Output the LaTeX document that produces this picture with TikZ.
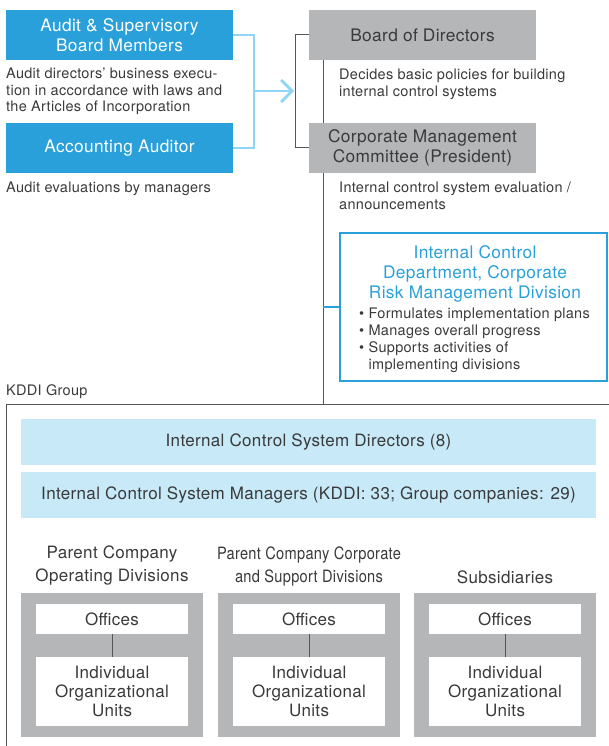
\documentclass[tikz,border=0pt]{standalone}
\usepackage{fontspec}
\setmainfont{TeX Gyre Heros}[LetterSpace=2]
\usepackage{graphicx}
\usetikzlibrary{arrows.meta}

\definecolor{kblue}{HTML}{29A0DA}
\definecolor{klink}{HTML}{8FD5F5}
\definecolor{kgray}{HTML}{B5B6B8}
\definecolor{kpale}{HTML}{C7E9F8}
\definecolor{ktext}{HTML}{3A3A3A}
\definecolor{kline}{HTML}{555555}

\tikzset{
	bluebox/.style={fill=kblue, text=white, minimum width=227pt, minimum height=50pt, inner sep=0pt, align=center, font=\fontsize{17.3}{20}\selectfont},
	graybox/.style={fill=kgray, text=ktext, minimum width=227pt, minimum height=50pt, inner sep=0pt, align=center, font=\fontsize{17.3}{20}\selectfont},
	note/.style={anchor=north west, align=left, inner sep=0pt, text=ktext, font=\fontsize{14.5}{16.5}\selectfont},
	palebox/.style={fill=kpale, text=ktext, minimum width=575pt, minimum height=46pt, inner sep=0pt, font=\fontsize{17}{19}\selectfont},
	header/.style={text=ktext, align=center, inner sep=0pt, font=\fontsize{17}{23}\selectfont},
	unitbox/.style={fill=white, text=ktext, minimum width=152pt, inner sep=0pt, align=center, font=\fontsize{17}{19}\selectfont},
	tree/.style={draw=kline, line width=1pt}
}

\begin{document}
\begin{tikzpicture}[x=1pt, y=-1pt]
	\useasboundingbox (0,0) rectangle (608,746);

	% audit side
	\node[bluebox] (aud) at (119.5, 35)  {Audit \& Supervisory\\Board Members};
	\node[note] (audnote) at (6, 68) {Audit directors' business execu-\\tion in accordance with laws and\\the Articles of Incorporation};
	\node[bluebox] (acc) at (119.5, 148) {Accounting Auditor};
	\node[note] (accnote) at (6, 182) {Audit evaluations by managers};

	\coordinate (join) at (254, 91);
	\coordinate (tip)  at (294, 91);
	\draw[klink, line width=2.8pt] (aud.east) -| (join) |- (acc.east);
	\draw[klink, line width=2.8pt, -{Straight Barb[length=11pt, width=22pt, line width=2.8pt]}] (join) -- (tip);

	% management side
	\node[graybox] (bod) at (422.5, 35)  {Board of Directors};
	\node[note] (bodnote) at (339, 69) {Decides basic policies for building\\internal control systems};
	\node[graybox] (cmc) at (422.5, 148) {Corporate Management\\Committee (President)};
	\node[note] (cmcnote) at (339, 182) {Internal control system evaluation /\\announcements};

	\draw[tree] (bod.west) -- ++(-13,0) |- (cmc.west);
	\coordinate (spine) at (323, 404);
	\draw[tree] (bod.south -| spine) -- (cmc.north -| spine);
	\draw[tree] (cmc.south -| spine) -- (spine);

	% internal control department
	\node[draw=kblue, line width=1.2pt, minimum width=267pt, minimum height=148pt, inner sep=0pt] (icd) at (473.5, 307) {};
	\node[text=kblue, align=center, inner sep=0pt, font=\fontsize{17.3}{20}\selectfont, anchor=north] (icdtitle) at (475, 245)
		{Internal Control\\Department, Corporate\\Risk Management Division};
	\node[note, font=\fontsize{14.5}{17}\selectfont] (icdlist) at (359, 308)
		{\textbullet\ Formulates implementation plans\\\textbullet\ Manages overall progress\\\textbullet\ Supports activities of\\\phantom{\textbullet\ }implementing divisions};
	\draw[kblue, line width=1.2pt] (icd.west -| spine) -- (icd.west);

	% KDDI group
	\node[note] (grp) at (6, 384) {KDDI Group};
	\draw[kline, line width=1pt] (612, 404) -- (6, 404) -- (6, 750);

	\node[palebox] (dir) at (308.5, 442) {Internal Control System Directors (8)};
	\node[palebox] (mgr) at (308.5, 495) {Internal Control System Managers (KDDI: 33; Group companies: 29)};

	\node[header] (hdrop) at (112, 565.5) {Parent Company\\Operating Divisions};
	\node[header] (hdrcs) at (309, 566) {\scalebox{0.86}[1]{Parent Company Corporate}\\\scalebox{0.86}[1]{and Support Divisions}};
	\node[header] (hdrsub) at (505, 577) {Subsidiaries};

	\foreach \cx/\id in {112/op, 309/cs, 505/sub} {
		\node[fill=kgray, minimum width=182pt, minimum height=144pt, inner sep=0pt] (col\id) at (\cx, 665) {};
		\node[unitbox, minimum height=30pt] (off\id) at (\cx, 619) {Offices};
		\node[unitbox, minimum height=69pt] (ind\id) at (\cx, 691.5) {Individual\\Organizational\\Units};
		\draw[tree] (off\id) -- (ind\id);
	}

\end{tikzpicture}
\end{document}
